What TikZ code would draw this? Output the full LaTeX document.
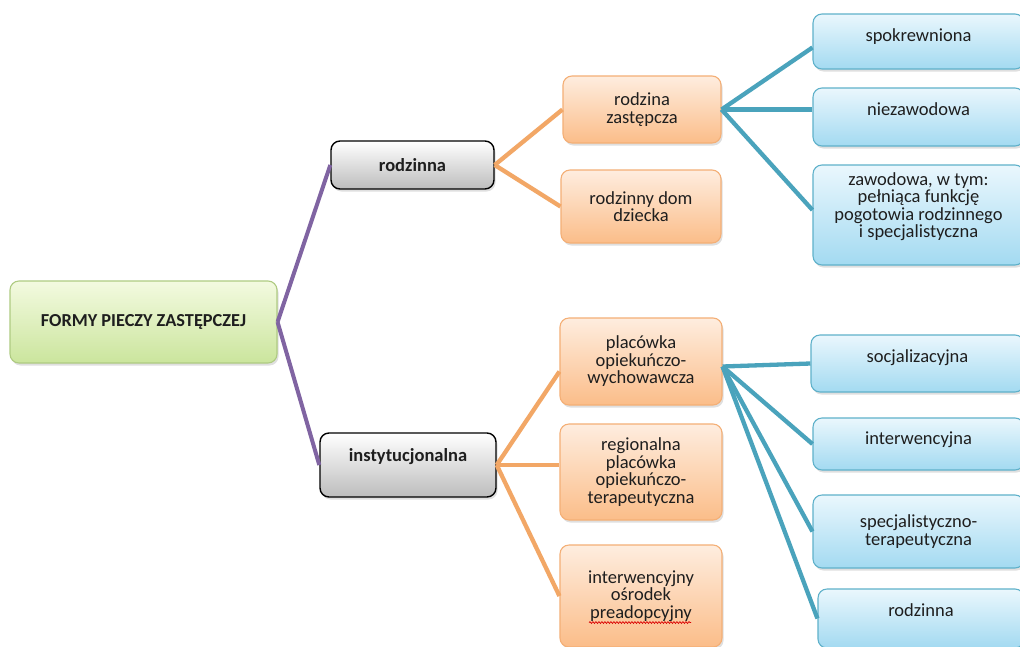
\documentclass[tikz,border=0pt]{standalone}
\usepackage{fontspec}
\setmainfont{Carlito}
\usetikzlibrary{shadows,decorations.pathmorphing}
\definecolor{purp}{HTML}{8064A2}
\definecolor{orl}{HTML}{F2A766}
\definecolor{bll}{HTML}{4AA3BC}
\definecolor{txt}{HTML}{1E1E1E}
\definecolor{bltop}{HTML}{EAF7FD}
\definecolor{blbot}{HTML}{A3DAF1}
\definecolor{bldr}{HTML}{5FB1CA}
\definecolor{ortop}{HTML}{FEEDDF}
\definecolor{orbot}{HTML}{FBBD89}
\definecolor{ordr}{HTML}{F4AF76}
\definecolor{grtop}{HTML}{F3FAE0}
\definecolor{grbot}{HTML}{CBE59D}
\definecolor{grdr}{HTML}{AFCB82}
\tikzset{
  box/.style={rounded corners=9pt, align=center, inner sep=2pt, text=txt,
    font=\fontsize{18.5}{17.5}\selectfont,
    drop shadow={shadow xshift=1.5pt, shadow yshift=-2.5pt, opacity=0.25}},
  rootbox/.style={box, draw=grdr, line width=1.1pt, top color=grtop, bottom color=grbot,
    font=\bfseries\fontsize{18.3}{18}\selectfont},
  greybox/.style={box, draw=black, line width=1.4pt, top color=white, bottom color=black!26,
    font=\bfseries\fontsize{18.5}{18.5}\selectfont},
  orbox/.style={box, draw=ordr, line width=1.1pt, top color=ortop, bottom color=orbot},
  blbox/.style={box, draw=bldr, line width=1.1pt, top color=bltop, bottom color=blbot},
  pline/.style={purp, line width=4pt},
  oline/.style={orl, line width=4.3pt},
  bline/.style={bll, line width=4.3pt},
}
\newcommand{\bx}[7]{\node[#1, minimum width=#4pt-#2pt, minimum height=#5pt-#3pt] (#6) at ({(#2+#4)/2},{(#3+#5)/2}) {#7};}
\begin{document}
\begin{tikzpicture}[x=1pt,y=-1pt]
\useasboundingbox (0,0) rectangle (1020,646);
\fill[white] (0,0) rectangle (1020,646);
\bx{rootbox}{10}{281}{277}{363}{root}{FORMY PIECZY ZASTĘPCZEJ}
\bx{greybox}{331}{141}{494}{189}{rodz}{rodzinna}
\bx{greybox,text depth=20pt}{320}{433}{496}{497}{inst}{instytucjonalna}
\bx{orbox}{563}{76}{721}{143}{rz}{rodzina\\zastępcza}
\bx{orbox}{561}{170}{721}{243}{rdd}{rodzinny dom\\dziecka}
\bx{orbox}{560}{318}{722}{405}{pow}{placówka\\opiekuńczo-\\wychowawcza}
\bx{orbox}{560}{424}{722}{520}{reg}{regionalna\\placówka\\opiekuńczo-\\terapeutyczna}
\bx{orbox}{560}{545}{722}{647}{iop}{interwencyjny\\ośrodek\\preadopcyjny}
\bx{blbox,text depth=12.5pt}{813}{14}{1024}{69}{spok}{spokrewniona}
\bx{blbox,text depth=16pt}{813}{88}{1024}{146}{niez}{niezawodowa}
\bx{blbox,text depth=20pt}{813}{165}{1024}{265}{zaw}{zawodowa, w tym:\\pełniąca funkcję\\pogotowia rodzinnego\\i specjalistyczna}
\bx{blbox,text depth=14pt}{811}{335}{1024}{392}{soc}{socjalizacyjna}
\bx{blbox,text depth=12.5pt}{813}{418}{1024}{470}{intw}{interwencyjna}
\bx{blbox}{813}{495}{1024}{568}{spec}{specjalistyczno-\\terapeutyczna}
\bx{blbox,text depth=16pt}{818}{589}{1024}{648}{rodb}{rodzinna}
% lines
\draw[pline] (root.east) -- (rodz.west);
\draw[pline] (root.east) -- (inst.west);
\draw[oline] (rodz.east) -- (rz.west);
\draw[oline] (rodz.east) -- (rdd.west);
\draw[oline] (inst.east) -- ([yshift=-10pt]pow.west);
\draw[oline] (inst.east) -- (inst.east -| reg.west);
\draw[oline] (inst.east) -- (iop.west);
\draw[bline] (rz.east) -- ([yshift=-6pt]spok.west);
\draw[bline] (rz.east) -- (rz.east -| niez.west);
\draw[bline] (rz.east) -- ([yshift=5pt]zaw.west);
\draw[bline] ([yshift=-5pt]pow.east) -- (soc.west);
\draw[bline] ([yshift=-5pt]pow.east) -- (intw.west);
\draw[bline] ([yshift=-5pt]pow.east) -- (spec.west);
\draw[bline] ([yshift=-5pt]pow.east) -- (rodb.west);
% spell-check underline
\coordinate (wl) at ([xshift=-52pt,yshift=25pt]iop.south);
\coordinate (wr) at ([xshift=50pt,yshift=25pt]iop.south);
\draw[red!85!black, line width=0.7pt, decorate, decoration={snake, amplitude=0.9pt, segment length=3pt}] (wl) -- (wr);
\end{tikzpicture}
\end{document}
